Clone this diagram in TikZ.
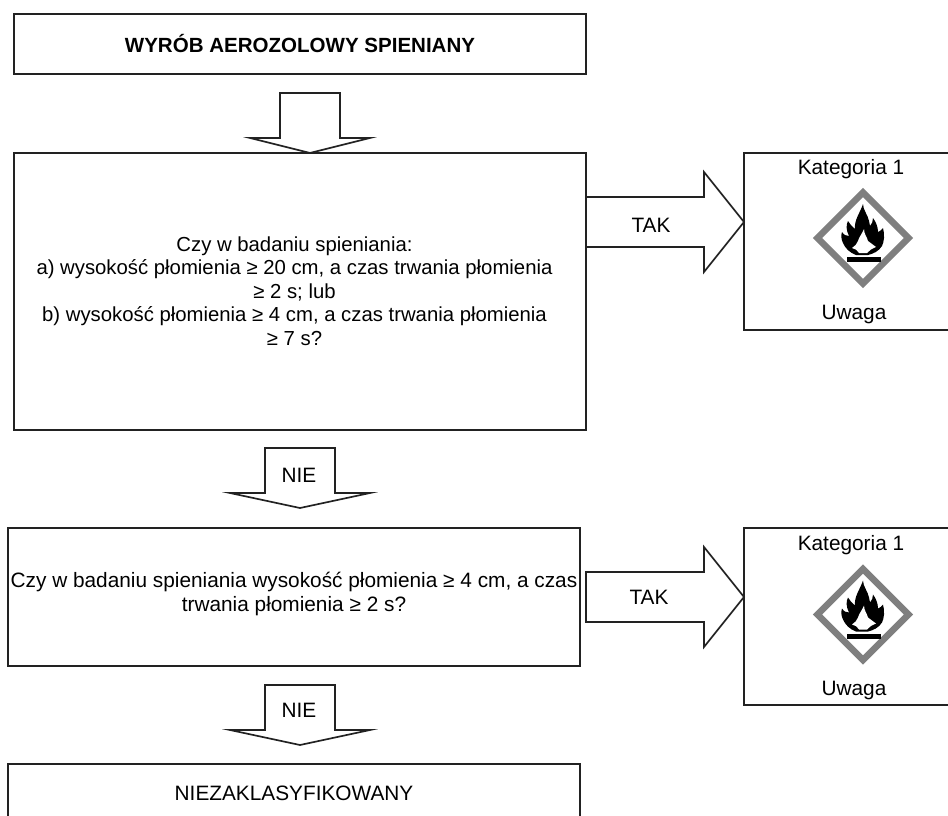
\documentclass[tikz,border=0pt]{standalone}
\usepackage{fontspec}
\setmainfont{Liberation Sans}
\usetikzlibrary{calc,shapes.geometric}
\definecolor{linegray}{HTML}{222222}
\definecolor{signgray}{HTML}{7F7F7F}
\tikzset{
  box/.style={draw=linegray,line width=1.2pt,rectangle,inner sep=0pt,outer sep=0pt,minimum width=406.9pt},
  txt/.style={font=\fontsize{14.8}{16.7}\selectfont,text=black,align=center,inner sep=0pt},
  downarrow/.style={draw=linegray,line width=1.2pt,line join=miter,to path={
    ($(\tikztostart)+(-35,0)$) -- ($(\tikztotarget)+(-35,-15)$) -- ($(\tikztotarget)+(-70,-15)$)
    -- (\tikztotarget) -- ($(\tikztotarget)+(70,-15)$) -- ($(\tikztotarget)+(35,-15)$)
    -- ($(\tikztostart)+(35,0)$) -- cycle}},
  downarrowsmall/.style={draw=linegray,line width=1.2pt,line join=miter,to path={
    ($(\tikztostart)+(-30,0)$) -- ($(\tikztotarget)+(-30,-15)$) -- ($(\tikztotarget)+(-60,-15)$)
    -- (\tikztotarget) -- ($(\tikztotarget)+(60,-15)$) -- ($(\tikztotarget)+(30,-15)$)
    -- ($(\tikztostart)+(30,0)$) -- cycle}},
  rightarrow/.style={draw=linegray,line width=1.2pt,line join=miter,to path={
    ($(\tikztostart)+(0,-25)$) -- ($(\tikztotarget)+(-40,-25)$) -- ($(\tikztotarget)+(-40,-50)$)
    -- (\tikztotarget) -- ($(\tikztotarget)+(-40,50)$) -- ($(\tikztotarget)+(-40,25)$)
    -- ($(\tikztostart)+(0,25)$) -- cycle}},
  sign/.style={draw=signgray,fill=white,line width=4.6pt,line join=miter,diamond,aspect=1,inner sep=0pt,outer sep=0pt,minimum width=64.7pt,minimum height=64.7pt},
}
\newcommand{\flame}[2]{%
  \begin{scope}[shift={(#1,#2)}]
    \fill[black] (0,-31) .. controls (0,-25) and (5,-20) .. (6,-14) .. controls (7,-12) and (7,-11) .. (7,-9)
      .. controls (9,-11) and (10,-14) .. (10,-17) .. controls (13,-13) and (15,-8) .. (15,-3)
      .. controls (17,-4) and (19,-5) .. (20,-7) .. controls (22,0) and (21,7) .. (19,11)
      .. controls (16,16) and (10,19) .. (5,20) -- (-7,20) .. controls (-13,18) and (-18,13) .. (-20,8)
      .. controls (-22,4) and (-22,0) .. (-21,-3) .. controls (-19,0) and (-17,1) .. (-14,1)
      .. controls (-17,-5) and (-17,-10) .. (-15,-14) .. controls (-13,-11) and (-11,-8) .. (-8,-6)
      .. controls (-9,-15) and (-3,-22) .. (0,-31) -- cycle;
    \fill[white] (1,-6) .. controls (1,-1) and (4,2) .. (5,6) .. controls (8,8) and (10,10) .. (13,12)
      .. controls (9,14) and (6,15) .. (4,18) -- (-4,18) .. controls (-5,15) and (-8,14) .. (-11,13)
      .. controls (-8,11) and (-6,9) .. (-5,6) .. controls (-4,2) and (-1,-1) .. (1,-6) -- cycle;
    \fill[black] (-16,22) rectangle (18,27);
  \end{scope}}

\begin{document}
\begin{tikzpicture}[x=0.025cm,y=-0.025cm]
  \clip (0,0) rectangle (948,816);
  % left column
  \node[box,minimum height=42.7pt] (title) at (300,44) {};
  \node[txt,font=\fontsize{14.6}{16}\selectfont\bfseries] (titletxt) at (300,44) {WYRÓB AEROZOLOWY SPIENIANY};
  \node[box,minimum height=197pt] (q1) at (300,291.5) {};
  \node[txt,font=\fontsize{14.45}{16.7}\selectfont] (q1txt) at (294.5,291) {Czy w badaniu spieniania:\\
    a) wysokość płomienia ≥ 20 cm, a czas trwania płomienia\\ ≥ 2 s; lub\\
    b) wysokość płomienia ≥ 4 cm, a czas trwania płomienia\\ ≥ 7 s?};
  \node[box,minimum height=98.2pt] (q2) at (294,597) {};
  \node[txt] (q2txt) at (294,594) {Czy w badaniu spieniania wysokość płomienia ≥ 4 cm, a czas\\ trwania płomienia ≥ 2 s?};
  \node[box,minimum height=54pt] (none) at (294,802) {};
  \node[txt] (nonetxt) at (294,793) {NIEZAKLASYFIKOWANY};
  % right column
  \node[box,minimum width=160.8pt,minimum height=125.9pt,anchor=north west] (cat1) at (744,153) {};
  \node[txt] (k1) at (851,169.5) {Kategoria 1};
  \node[sign] (s1) at (863,238) {};
  \flame{863}{235}
  \node[txt] (u1) at (854,314) {Uwaga};
  \node[box,minimum width=160.8pt,minimum height=125.9pt,anchor=north west] (cat2) at (744,528) {};
  \node[txt] (k2) at (851,545.5) {Kategoria 1};
  \node[sign] (s2) at (863,614.5) {};
  \flame{863}{611.5}
  \node[txt] (u2) at (854,690) {Uwaga};
  % arrows
  \coordinate (a1) at (310,93);
  \coordinate (a2) at (300,448);
  \coordinate (a2end) at (300,508);
  \coordinate (a3) at (300,685);
  \coordinate (a3end) at (300,745);
  \coordinate (t2) at (586,597);
  \draw[downarrowsmall] (a1) to (q1.north -| a1);
  \draw[downarrow] (a2) to (a2end);
  \node[txt] (nie1) at (299,475) {NIE};
  \draw[downarrow] (a3) to (a3end);
  \node[txt] (nie2) at (299,710) {NIE};
  \draw[rightarrow] (q1.east |- 0,222) to (cat1.west |- 0,222);
  \node[txt] (tak1) at (651,225) {TAK};
  \draw[rightarrow] (t2) to (cat2.west |- t2);
  \node[txt] (tak2) at (649,597) {TAK};
\end{tikzpicture}
\end{document}
